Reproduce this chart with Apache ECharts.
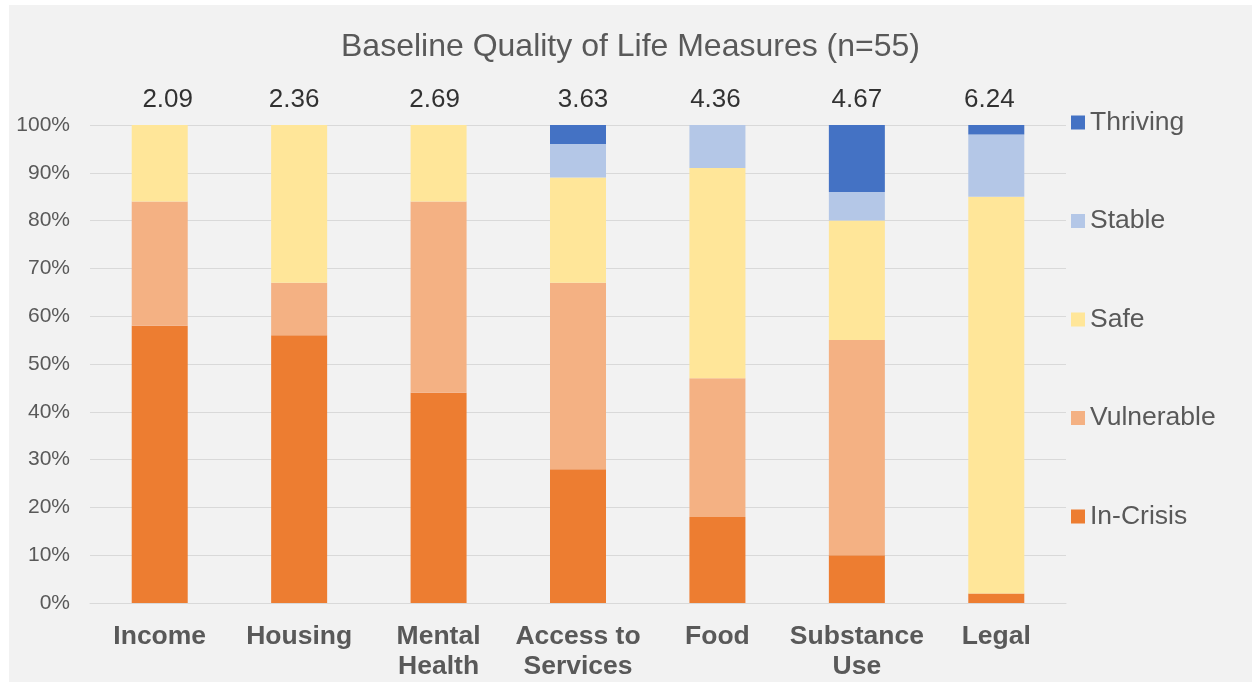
<!DOCTYPE html>
<html>
<head>
<meta charset="utf-8">
<script src="https://cdn.jsdelivr.net/npm/echarts@6/dist/echarts.min.js"></script>
<style>
  html, body { margin: 0; padding: 0; background: #ffffff; }
  #chart { position: absolute; left: 9px; top: 5px; width: 1243px; height: 677px; }
</style>
</head>
<body>
<div id="chart"></div>
<script>
// Domains measured at intake
const categories = ['Income', 'Housing', 'Mental\nHealth', 'Access to\nServices', 'Food', 'Substance\nUse', 'Legal'];

// Mean baseline score per domain, printed above each column
const meanScores = ['2.09', '2.36', '2.69', '3.63', '4.36', '4.67', '6.24'];

// Share of participants (%) in each level, per domain
const inCrisis   = [58, 56, 44, 28, 18, 10, 2];
const vulnerable = [26, 11, 40, 39, 29, 45, 0];
const safe       = [16, 33, 16, 22, 44, 25, 83];
const stable     = [0, 0, 0, 7, 9, 6, 13];
const thriving   = [0, 0, 0, 4, 0, 14, 2];

const yTicks = [0, 10, 20, 30, 40, 50, 60, 70, 80, 90, 100];

const grey = '#595959';
const gridGrey = '#d9d9d9';
const font = 'Liberation Sans, Arial, sans-serif';

// the score text boxes were nudged by hand, not exactly centred on the columns
const scoreNudge = [8, -5, -4, 5, -2, 0, -7];

function barSeries(name, data, color) {
  return {
    name: name,
    type: 'bar',
    stack: 'levels',
    barWidth: 56,
    data: data,
    itemStyle: { color: color },
    emphasis: { disabled: true }
  };
}

const chart = echarts.init(document.getElementById('chart'));
chart.setOption({
  backgroundColor: '#f2f2f2',
  animation: false,
  title: {
    text: 'Baseline Quality of Life Measures (n=55)',
    left: 'center',
    top: 26,
    padding: 0,
    textStyle: { color: grey, fontSize: 32, fontWeight: 'normal', fontFamily: font }
  },
  legend: {
    orient: 'vertical',
    left: 1062,
    top: 104,
    padding: 0,
    itemWidth: 14,
    itemHeight: 14,
    itemGap: 71.5,
    icon: 'rect',
    data: ['Thriving', 'Stable', 'Safe', 'Vulnerable', 'In-Crisis'],
    textStyle: { color: grey, fontSize: 26.5, lineHeight: 26, fontFamily: font },
    selectedMode: false
  },
  grid: { left: 81, right: 186, top: 120, bottom: 77, containLabel: false },
  xAxis: {
    type: 'category',
    data: categories,
    axisTick: { show: false },
    axisLine: { lineStyle: { color: gridGrey, width: 1 } },
    axisLabel: {
      color: grey,
      fontSize: 26.5,
      fontWeight: 'bold',
      lineHeight: 30,
      margin: 19,
      interval: 0,
      fontFamily: font
    }
  },
  yAxis: {
    type: 'value',
    min: 0,
    max: 100,
    interval: 10,
    axisLine: { show: false },
    axisTick: { show: false },
    splitLine: { lineStyle: { color: gridGrey, width: 1 } },
    axisLabel: {
      color: grey,
      fontSize: 21,
      margin: 20,
      fontFamily: font,
      formatter: v => (yTicks.includes(v) ? v + '%' : '')
    }
  },
  series: [
    barSeries('In-Crisis', inCrisis, '#ED7D31'),
    barSeries('Vulnerable', vulnerable, '#F4B183'),
    barSeries('Safe', safe, '#FFE699'),
    barSeries('Stable', stable, '#B4C7E7'),
    barSeries('Thriving', thriving, '#4472C4'),
    {
      // mean score annotations sitting above the 100% line
      name: 'Mean score',
      type: 'scatter',
      symbolSize: 0,
      silent: true,
      data: meanScores.map((s, i) => ({
        value: 100,
        label: { offset: [scoreNudge[i], 0] }
      })),
      label: {
        show: true,
        position: 'top',
        distance: 12,
        color: '#000000',
        fontSize: 26,
        fontFamily: font,
        formatter: p => meanScores[p.dataIndex]
      }
    }
  ]
});
</script>
</body>
</html>
